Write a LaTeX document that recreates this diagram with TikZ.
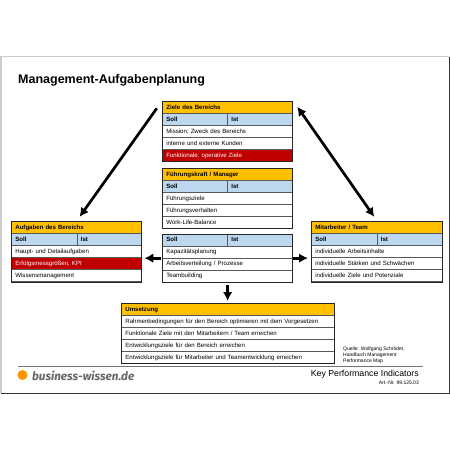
\documentclass[tikz,border=0pt]{standalone}
\usepackage{fontspec}
\setmainfont{Liberation Sans}
\newfontfamily\logofont{Fira Sans}
\usetikzlibrary{arrows.meta}
\definecolor{headorange}{HTML}{FFC000}
\definecolor{sollblue}{HTML}{BDD7EE}
\definecolor{alarmred}{HTML}{C00000}
\tikzset{
    cell/.style={draw=black!65,line width=0.7pt,anchor=north west,inner xsep=4pt,inner ysep=0pt,
        minimum height=12pt,font=\fontsize{6.1}{7}\selectfont,text height=4.6pt,text depth=1.2pt,align=left},
    headcell/.style={cell,fill=headorange,text width=#1,font=\fontsize{6.1}{7}\selectfont\bfseries},
    sollcell/.style={cell,fill=sollblue,text width=#1,font=\fontsize{6.1}{7}\selectfont\bfseries},
    rowcell/.style={cell,fill=white,text width=#1},
    redcell/.style={cell,fill=alarmred,text=white,text width=#1},
    boxframe/.style={draw=black!85,line width=1.3pt,minimum width=#1,inner sep=0pt,anchor=north west},
    bigarrow/.style={-{Latex[length=9pt,width=9.5pt]},line width=2.7pt,black}
}
\begin{document}
\begin{tikzpicture}[x=1pt,y=-1pt]
    \useasboundingbox (0,0) rectangle (450,450);
    \fill[white] (0,0) rectangle (450,450);

    % page frame
    \draw[black!20,line width=1.3pt] (1,393) -- (1,56.5) -- (449,56.5);
    \draw[black!80,line width=1pt] (449,56.5) -- (449,393) -- (1,393);
    \node[anchor=west,inner sep=0pt,font=\fontsize{12.5}{15}\selectfont\bfseries] (title) at (18,80) {Management-Aufgabenplanung};

    % Ziele
    \node[headcell=122pt] (zh) at (162,101) {Ziele des Bereichs};
    \node[sollcell=57pt] (zs) at (162,113) {Soll};
    \node[sollcell=57pt] (zi) at (227,113) {Ist};
    \node[rowcell=122pt] (z1) at (162,125) {Mission; Zweck des Bereichs};
    \node[rowcell=122pt] (z2) at (162,137) {interne und externe Kunden};
    \node[redcell=122pt] (z3) at (162,149) {Funktionale, operative Ziele};
    \node[boxframe=130pt,minimum height=60pt] (ziele) at (162,101) {};

    % Fuehrung
    \node[headcell=122pt] (fh) at (162,168) {Führungskraft / Manager};
    \node[sollcell=57pt] (fs) at (162,180) {Soll};
    \node[sollcell=57pt] (fi) at (227,180) {Ist};
    \node[rowcell=122pt] (f1) at (162,192) {Führungsziele};
    \node[rowcell=122pt] (f2) at (162,204) {Führungsverhalten};
    \node[rowcell=122pt] (f3) at (162,216) {Work-Life-Balance};
    \node[boxframe=130pt,minimum height=60pt] (fuehrung) at (162,168) {};

    % Mitte
    \node[sollcell=57pt] (ms) at (162,233.5) {Soll};
    \node[sollcell=57pt] (mi) at (227,233.5) {Ist};
    \node[rowcell=122pt] (m1) at (162,245.5) {Kapazitätsplanung};
    \node[rowcell=122pt] (m2) at (162,257.5) {Arbeitsverteilung / Prozesse};
    \node[rowcell=122pt] (m3) at (162,269.5) {Teambuilding};
    \node[boxframe=130pt,minimum height=48pt] (mitte) at (162,233.5) {};

    % Aufgaben
    \node[headcell=122pt] (ah) at (11,221) {Aufgaben des Bereichs};
    \node[sollcell=57.5pt] (as) at (11,233) {Soll};
    \node[sollcell=56.5pt] (ai) at (76.5,233) {Ist};
    \node[rowcell=122pt] (a1) at (11,245) {Haupt- und Detailaufgaben};
    \node[redcell=122pt] (a2) at (11,257) {Erfolgsmessgrößen, KPI};
    \node[rowcell=122pt] (a3) at (11,269) {Wissensmanagement};
    \node[boxframe=130pt,minimum height=61pt] (aufgaben) at (11,221) {};

    % Mitarbeiter
    \node[headcell=123pt] (th) at (311,221) {Mitarbeiter / Team};
    \node[sollcell=57.5pt] (ts) at (311,233) {Soll};
    \node[sollcell=57.5pt] (ti) at (376.5,233) {Ist};
    \node[rowcell=123pt] (t1) at (311,245) {individuelle Arbeitsinhalte};
    \node[rowcell=123pt] (t2) at (311,257) {individuelle Stärken und Schwächen};
    \node[rowcell=123pt] (t3) at (311,269) {individuelle Ziele und Potenziale};
    \node[boxframe=131pt,minimum height=61pt] (team) at (311,221) {};

    % Umsetzung
    \node[headcell=205pt] (uh) at (121,303) {Umsetzung};
    \node[rowcell=205pt] (u1) at (121,315) {Rahmenbedingungen für den Bereich optimieren mit dem Vorgesetzen};
    \node[rowcell=205pt] (u2) at (121,327) {Funktionale Ziele mit den Mitarbeitern / Team erreichen};
    \node[rowcell=205pt] (u3) at (121,339) {Entwicklungsziele für den Bereich erreichen};
    \node[rowcell=205pt] (u4) at (121,351) {Entwicklungsziele für Mitarbeiter und Teamentwicklung erreichen};
    \node[boxframe=213pt,minimum height=60pt] (umsetzung) at (121,303) {};

    \draw[bigarrow,shorten <=9pt,shorten >=5pt] (ziele.north west) -- (aufgaben.north);
    \draw[bigarrow,{Latex[length=9pt,width=9.5pt]}-{Latex[length=9pt,width=9.5pt]},shorten <=7pt,shorten >=5pt] (ziele.north east) -- (team.north);
    \draw[bigarrow,shorten <=1pt,shorten >=2pt] (mitte.west) -- (mitte.west -| aufgaben.east);
    \draw[bigarrow,shorten <=0pt,shorten >=3pt] (mitte.east) -- (mitte.east -| team.west);
    \draw[bigarrow,shorten <=2pt,shorten >=2pt] (mitte.south) -- (mitte.south |- umsetzung.north);

    % footer
    \draw[black!55,line width=0.7pt] (18,366) -- (423,366);
    \fill[orange!85!yellow] (22.5,375) circle (5);
    \node[anchor=west,inner sep=0pt,text=black!60,font=\logofont\fontsize{11.7}{14}\selectfont\itshape\bfseries] (logo) at (32,375.5) {business-wissen.de};
    \node[anchor=north west,inner sep=0pt,align=left,font=\fontsize{5}{5.9}\selectfont] (quelle) at (343,346.5) {Quelle: Wolfgang Schröder,\\Handbuch Management\\Performance Map};
    \node[anchor=east,inner sep=0pt,font=\fontsize{8.75}{10}\selectfont] (kpi) at (419,374) {Key Performance Indicators};
    \node[anchor=east,inner sep=0pt,font=\fontsize{5}{5}\selectfont] (artnr) at (419,383) {Art.-Nr. 99.125.03};
\end{tikzpicture}
\end{document}
